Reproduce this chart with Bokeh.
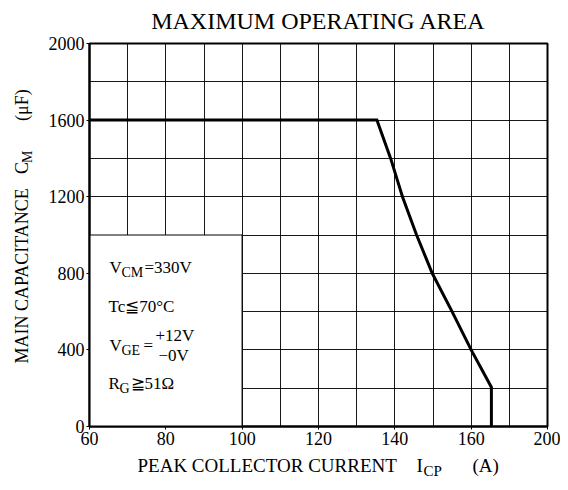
import math
from bokeh.plotting import figure
from bokeh.models import FixedTicker, Label, Range1d
from bokeh.layouts import column, row
from bokeh.embed import file_html
from bokeh.resources import INLINE

# ---- data ----
current_a = [60, 135.3, 138.9, 142.0, 145.7, 149.8, 155.0, 160.0, 165.3, 165.3]
capacitance_uF = [1600, 1600, 1400, 1200, 1000, 800, 600, 400, 205, 0]

x_tick_values = [60, 80, 100, 120, 140, 160, 180]
x_tick_labels = ["60", "80", "100", "120", "140", "160", "200"]
y_tick_values = [0, 400, 800, 1200, 1600, 2000]
x_grid_values = [60, 70, 80, 90, 100, 110, 120, 130, 140, 150, 160, 170, 180]
y_grid_values = [0, 200, 400, 600, 800, 1000, 1200, 1400, 1600, 1800, 2000]

box_x = [60, 100]
box_y = [0, 1000]

FONT = "Liberation Serif"

# ---- page geometry (pixels) ----
PW = 560            # total width
TITLE_H = 33        # title strip height
YL_W = 40           # y-label strip width
MAIN_H = 420        # main figure height
XL_H = 29           # x-label strip height
FL, FR, FT, FB = 89, 547, 43, 426   # frame edges on the page


def text_fig(w, h):
    f = figure(width=w, height=h, x_range=Range1d(0, w), y_range=Range1d(0, h),
               x_axis_type=None, y_axis_type=None, output_backend="svg",
               toolbar_location=None, min_border=0)
    f.outline_line_color = None
    f.background_fill_color = "white"
    f.border_fill_color = "white"
    f.xgrid.visible = False
    f.ygrid.visible = False
    return f


def put(f, text, x, y, size, align="left", angle=0.0, units="data"):
    f.add_layout(Label(x=x, y=y, x_units=units, y_units=units, text=text,
                       text_font=FONT, text_font_size=f"{size}px",
                       text_align=align, text_baseline="middle", angle=angle,
                       text_color="black"))


# ---- title strip ----
tf = text_fig(PW, TITLE_H)
put(tf, "MAXIMUM OPERATING AREA", 318, TITLE_H - 20, 24, align="center")

# ---- y-label strip ----
yf = text_fig(YL_W, MAIN_H)
ybot = TITLE_H + MAIN_H
ang = math.pi / 2
put(yf, "MAIN CAPACITANCE", 21, ybot - 384, 18, angle=ang)
put(yf, "C", 21, ybot - 176, 18, angle=ang)
put(yf, "M", 27, ybot - 164, 14, angle=ang)
put(yf, "(\u03bcF)", 21, ybot - 118, 18, angle=ang)

# ---- main chart ----
p = figure(width=PW - YL_W, height=MAIN_H, x_range=(60, 180), y_range=(0, 2000),
           output_backend="svg", toolbar_location=None,
           min_border_left=FL - YL_W, min_border_right=PW - FR,
           min_border_top=FT - TITLE_H, min_border_bottom=ybot - FB)
p.background_fill_color = "white"
p.border_fill_color = "white"
p.outline_line_color = "black"
p.outline_line_width = 2

p.xaxis.ticker = FixedTicker(ticks=x_tick_values)
p.xaxis.major_label_overrides = {v: s for v, s in zip(x_tick_values, x_tick_labels)}
p.yaxis.ticker = FixedTicker(ticks=y_tick_values)
for ax in (p.xaxis, p.yaxis):
    ax.axis_line_color = "black"
    ax.axis_line_width = 2
    ax.major_tick_in = 0
    ax.major_tick_out = 3
    ax.major_tick_line_color = "black"
    ax.minor_tick_line_color = None
    ax.major_label_text_font = FONT
    ax.major_label_text_font_size = "18px"
    ax.major_label_text_color = "black"
p.xaxis.major_label_standoff = 2
p.yaxis.major_label_standoff = 2

p.xgrid.ticker = FixedTicker(ticks=x_grid_values)
p.ygrid.ticker = FixedTicker(ticks=y_grid_values)
for g in (p.xgrid, p.ygrid):
    g.grid_line_color = "black"
    g.grid_line_width = 1
    g.grid_line_alpha = 0.9

p.quad(left=[box_x[0]], right=[box_x[1]], bottom=[box_y[0]], top=[box_y[1]],
       fill_color="white", line_color="black", line_width=1.2)

p.line(current_a, capacitance_uF, line_color="black", line_width=3, line_join="miter")


def cond(text, px, py, size):
    # screen units: measured from the frame's bottom-left corner
    put(p, text, px - FL, FB - py, size, units="screen")


cond("V", 109, 267, 17)
cond("CM", 121, 272, 14)
cond("=330V", 144, 267, 17)
cond("Tc\u226670\u00b0C", 108, 306, 17)
cond("V", 109, 345, 17)
cond("GE", 121, 350, 14)
cond("=", 143, 345, 17)
cond("+12V", 155, 335, 17)
cond("\u22120V", 158, 355, 17)
cond("R", 108, 383, 17)
cond("G", 119, 388, 14)
cond("\u226751\u03a9", 130, 383, 17)

# ---- x-label strip ----
xf = text_fig(PW, XL_H)
xtop = ybot
put(xf, "PEAK COLLECTOR CURRENT", 137, XL_H - (465 - xtop), 19)
put(xf, "I", 416, XL_H - (465 - xtop), 19)
put(xf, "CP", 423, XL_H - (470 - xtop), 15)
put(xf, "(A)", 472, XL_H - (465 - xtop), 19)

layout = column(tf, row(yf, p), xf)
open("out.html", "w").write(file_html(layout, INLINE))
